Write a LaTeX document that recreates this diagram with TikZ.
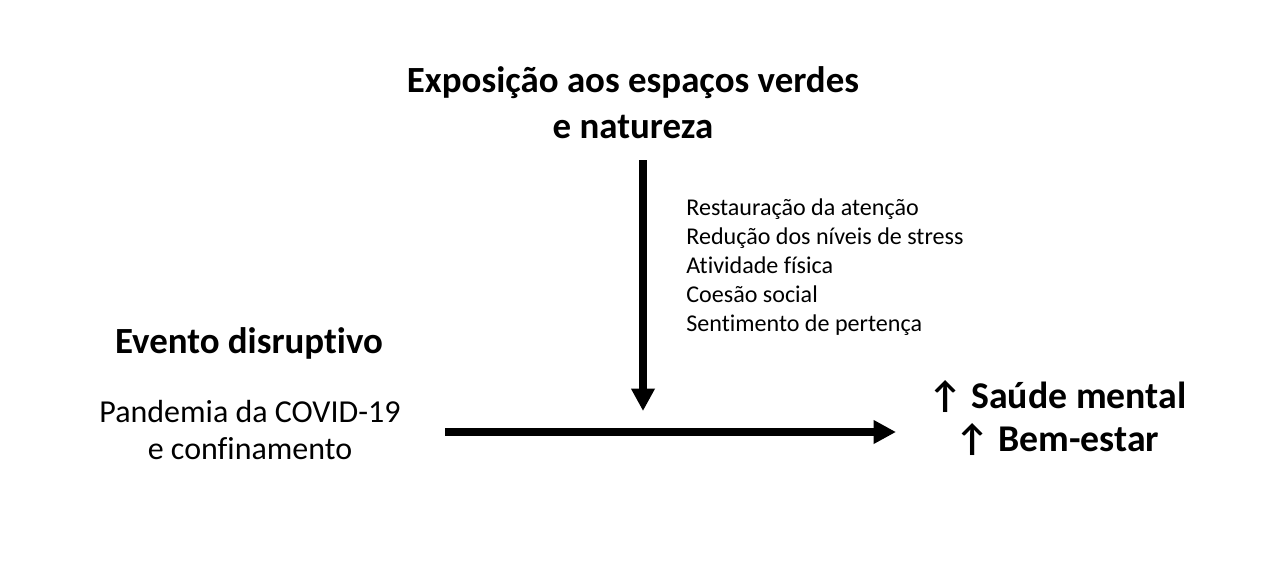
\documentclass[tikz,border=0pt]{standalone}
\usepackage{fontspec}
\setmainfont[Ligatures=NoCommon]{Carlito}
\usetikzlibrary{arrows.meta,positioning}

\begin{document}
\begin{tikzpicture}
\tikzset{
   titulo/.style={font=\bfseries\fontsize{21}{26}\selectfont, align=center, inner sep=0pt},
   texto/.style={font=\fontsize{18.2}{21.5}\selectfont, align=center, inner sep=0pt},
   lista/.style={font=\fontsize{13.7}{16.5}\selectfont, align=left, inner sep=0pt},
   seta/.style={-{Triangle[length=0.45cm,width=0.45cm]}, line width=0.16cm},
}
\useasboundingbox (0,0) rectangle (25.6,-11.34);
\node[titulo] (exposicao) at (12.66,-2.06) {Exposição aos espaços verdes\\e natureza};
\node[titulo] (evento) at (4.98,-6.86) {Evento disruptivo};
\node[texto] (pandemia) at (5.0,-8.6) {Pandemia da COVID-19\\e confinamento};
\node[lista, anchor=north west] (mecanismos) at (13.72,-3.97) {Restauração da atenção\\Redução dos níveis de stress\\Atividade física\\Coesão social\\Sentimento de pertença};
\node[titulo, font=\bfseries\fontsize{21.5}{25}\selectfont] (saude) at (21.15,-8.36) {↑ Saúde mental\\↑ Bem-estar};

\coordinate (topo) at (12.86,-3.2);
\coordinate (moderador) at (12.86,-8.22);
\coordinate (inicio) at (8.9,-8.64);
\coordinate (fim) at (17.92,-8.64);

\draw[seta] (topo) -- (moderador);
\draw[seta] (inicio) -- (fim);
\end{tikzpicture}
\end{document}
